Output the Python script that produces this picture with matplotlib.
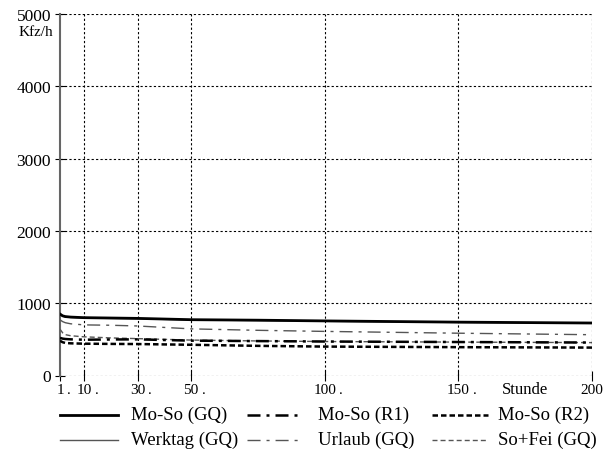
import matplotlib
matplotlib.use('Agg')
import matplotlib.pyplot as plt
from matplotlib.lines import Line2D

plt.rcParams['font.family'] = ['Liberation Serif', 'DejaVu Serif']

# Stunden (sortierte Stundenwerte) und Verkehrsstaerken in Kfz/h
hours = [1, 2, 3, 5, 10, 20, 30, 50, 75, 100, 150, 200]
moso_gq = [850, 825, 815, 808, 800, 795, 790, 772, 765, 755, 738, 726]
werktag_gq = [845, 820, 810, 803, 795, 790, 785, 768, 760, 750, 734, 722]
moso_r1 = [520, 510, 505, 500, 495, 498, 500, 482, 476, 470, 463, 456]
urlaub_gq = [770, 745, 730, 715, 700, 695, 685, 645, 625, 610, 585, 564]
moso_r2 = [480, 460, 450, 445, 440, 437, 435, 425, 410, 400, 392, 386]
sofei_gq = [640, 590, 565, 550, 535, 520, 510, 490, 478, 470, 462, 455]

xticks = [1, 10, 30, 50, 100, 150, 200]
xtick_labels = ['1', '10', '30', '50', '100', '150', '200']
yticks = [0, 1000, 2000, 3000, 4000, 5000]

series = [
    ('Mo-So (GQ)', moso_gq, dict(color='black', lw=2.0, ls='-')),
    ('Mo-So (R1)', moso_r1, dict(color='black', lw=1.8, dashes=[5.2, 2.4, 1.2, 2.4])),
    ('Mo-So (R2)', moso_r2, dict(color='black', lw=1.8, dashes=[2.2, 1.2])),
    ('Werktag (GQ)', werktag_gq, dict(color='#555555', lw=1.0, ls='-')),
    ('Urlaub (GQ)', urlaub_gq, dict(color='#555555', lw=1.0, dashes=[9.4, 4.3, 2.2, 4.3])),
    ('So+Fei (GQ)', sofei_gq, dict(color='#555555', lw=1.0, dashes=[3.6, 2.2])),
]

fig = plt.figure(figsize=(6.08, 4.52), dpi=100)
ax = fig.add_axes([60 / 608, 1 - 376.5 / 452, 532 / 608, 361.5 / 452])

# Gitter gepunktet
for x in xticks[1:]:
    ax.axvline(x, color='black', lw=0.8, ls=(0, (2, 2)), zorder=1)
for y in yticks:
    ax.axhline(y, color='black', lw=0.8, ls=(0, (2, 2)), zorder=1)

# Werktag zuerst, damit er unter Mo-So liegt
order = [3, 0, 4, 5, 1, 2]
for i in order:
    label, vals, style = series[i]
    ax.plot(hours, vals, zorder=3, **style)

ax.set_xlim(1, 200)
ax.set_ylim(0, 5000)
for s in ['top', 'right', 'bottom']:
    ax.spines[s].set_visible(False)
ax.spines['left'].set_color('#666666')
ax.spines['left'].set_linewidth(1.5)

fs = 11
ax.set_xticks(xticks)
ax.set_xticklabels(xtick_labels)
ax.set_yticks(yticks)
ax.tick_params(axis='both', direction='inout', length=7, width=0.8)
ax.tick_params(axis='x', pad=2, labelsize=fs)
ax.tick_params(axis='y', pad=3, labelsize=12.5)

# Punkt hinter den Stundenzahlen (Zahl bleibt auf dem Tick zentriert)
for x, lab in zip(xticks, xtick_labels):
    if lab == '200':
        continue
    off = len(lab) * 0.25 * fs + 0.2 * fs
    ax.annotate('.', xy=(x, 0), xycoords=ax.get_xaxis_transform(),
                xytext=(off, -5.5), textcoords='offset points',
                ha='left', va='top', fontsize=fs)

fig.text(53 / 608, 1 - 35.5 / 452, 'Kfz/h', ha='right', va='baseline', fontsize=11)
fig.text(525 / 608, 1 - 394 / 452, 'Stunde', ha='center', va='baseline', fontsize=12)

# Legende von Hand, zwei Zeilen zu je drei Eintraegen
col_x = [(60, 118, 131), (247, 303, 318), (432, 488, 498)]
row_y = [415.5, 440.5]
for k, (label, vals, style) in enumerate(series):
    r, c = divmod(k, 3)
    x0, x1, xt = col_x[c]
    yy = 1 - row_y[r] / 452
    fig.add_artist(Line2D([x0 / 608, x1 / 608], [yy, yy], transform=fig.transFigure, **style))
    fig.text(xt / 608, yy, label, ha='left', va='center', fontsize=13.5)

fig.savefig('out.png', dpi=100)
